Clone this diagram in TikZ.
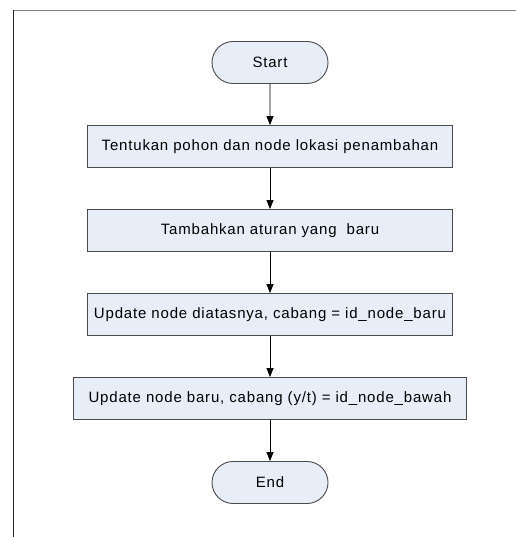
\documentclass[tikz,border=0pt]{standalone}
\usepackage{fontspec}
\setmainfont{Liberation Sans}[LetterSpace=5.5]
\usetikzlibrary{positioning}
\usetikzlibrary{arrows.meta}
\usetikzlibrary{shapes.misc}

\definecolor{boxfill}{HTML}{E8EEF7}
\definecolor{boxline}{HTML}{4A4A4A}

\begin{document}
\begin{tikzpicture}[x=1pt,y=1pt,node distance=41.1pt] %% flowchart
	\tikzstyle{terminal}=[rounded rectangle,draw=boxline,fill=boxfill,line width=0.9pt,minimum width=116pt,minimum height=42pt,inner sep=0pt,font=\fontsize{15}{18}\selectfont]
	\tikzstyle{process}=[rectangle,draw=boxline,fill=boxfill,line width=0.9pt,minimum width=365pt,minimum height=42pt,inner sep=0pt,font=\fontsize{15}{18}\selectfont]
	\tikzstyle{flow}=[-{Triangle[length=9pt,width=7pt]},line width=0.8pt,black]
	\useasboundingbox (0,0) rectangle (516,-537);
	% frame
	\draw[gray,line width=1.6pt] (13,-10.5) -- (516,-10.5);
	\draw[black!85,line width=1.3pt] (13.5,-10) -- (13.5,-537);
	% nodes
	\node[terminal] (start) at (270,-62.5) {Start};
	\node[process,below=of start] (pohon) {Tentukan pohon dan node lokasi penambahan};
	\node[process,below=of pohon] (aturan) {Tambahkan aturan yang\ \ baru};
	\node[process,below=of aturan] (atas) {Update node diatasnya, cabang = id\_node\_baru};
	\node[process,minimum width=393pt,below=of atas] (baru) {Update node baru, cabang (y/t) = id\_node\_bawah};
	\node[terminal,below=of baru] (end) {End};
	% arrows
	\draw[flow] (start) -- (pohon);
	\draw[flow] (pohon) -- (aturan);
	\draw[flow] (aturan) -- (atas);
	\draw[flow] (atas) -- (baru);
	\draw[flow] (baru) -- (end);
\end{tikzpicture}
\end{document}
